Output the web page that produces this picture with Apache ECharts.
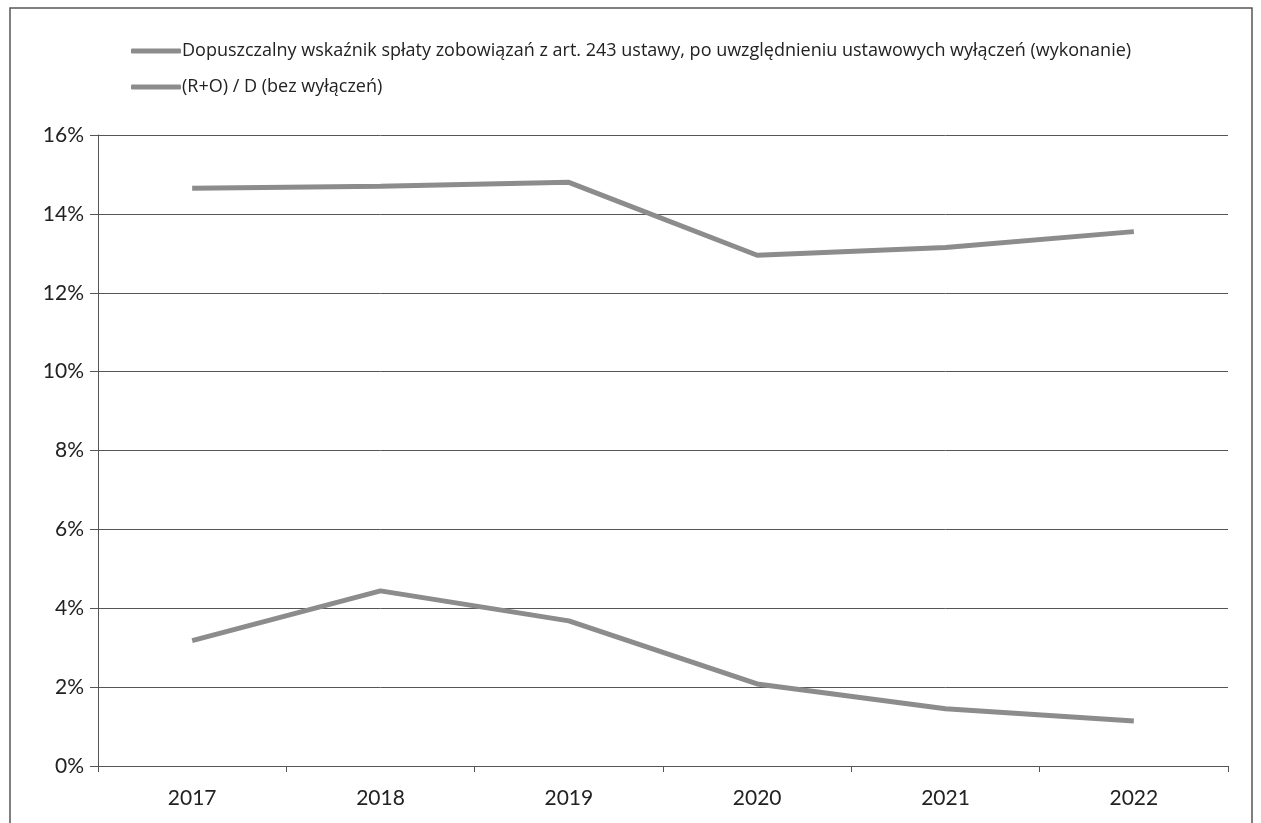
<!DOCTYPE html>
<html><head><meta charset="utf-8">
<script src="https://cdn.jsdelivr.net/npm/echarts@6/dist/echarts.min.js"></script>
<style>html,body{margin:0;padding:0;background:#fff}#c{width:1261px;height:823px}</style>
</head><body><div id="c"></div>
<script>
const categories = ['2017','2018','2019','2020','2021','2022'];
const seriesNames = ['Dopuszczalny wskaźnik spłaty zobowiązań z art. 243 ustawy, po uwzględnieniu ustawowych wyłączeń (wykonanie)', '(R+O) / D (bez wyłączeń)'];
const allowedRatio = [14.65, 14.7, 14.8, 12.95, 13.15, 13.55];
const actualRatio = [3.18, 4.44, 3.68, 2.08, 1.45, 1.14];
const yTicks = [0, 2, 4, 6, 8, 10, 12, 14, 16];

const chart = echarts.init(document.getElementById('c'), null, {renderer:'canvas'});
const font = 'Lato, "Open Sans", sans-serif';
chart.setOption({
  animation: false,
  backgroundColor: '#fff',
  graphic: [{type:'rect', shape:{x:10, y:8, width:1242, height:830}, style:{fill:'none', stroke:'#555', lineWidth:1.5}, silent:true}],
  legend: {
    orient: 'vertical', left: 126, top: 37, itemGap: 18,
    itemWidth: 50, itemHeight: 5,
    icon: 'roundRect',
    textStyle: {fontFamily: '"Open Sans", sans-serif', fontSize: 18, color: '#222', padding: [0,0,0,-4]},
    data: seriesNames
  },
  grid: {left: 98, right: 33, top: 135, bottom: 57, containLabel: false},
  xAxis: {
    type: 'category', data: categories, boundaryGap: true,
    axisLine: {lineStyle: {color: '#555', width: 1}},
    axisTick: {show: true, length: 6, lineStyle: {color: '#555'}},
    axisLabel: {fontFamily: font, fontSize: 21, color: '#222', margin: 22}
  },
  yAxis: {
    type: 'value', min: 0, max: 16, interval: 2,
    axisLine: {show: true, lineStyle: {color: '#555', width: 1}},
    axisTick: {show: true, length: 8, lineStyle: {color: '#555'}},
    splitLine: {lineStyle: {color: '#555', width: 1}},
    axisLabel: {fontFamily: font, fontSize: 21, color: '#222', margin: 14,
      formatter: v => yTicks.includes(v) ? v + '%' : ''}
  },
  series: [
    {name: seriesNames[0], type: 'line', data: allowedRatio, symbol: 'none',
     lineStyle: {color: '#8c8c8c', width: 5}, itemStyle: {color: '#8c8c8c'}},
    {name: seriesNames[1], type: 'line', data: actualRatio, symbol: 'none',
     lineStyle: {color: '#8c8c8c', width: 5}, itemStyle: {color: '#8c8c8c'}}
  ]
});
</script></body></html>
